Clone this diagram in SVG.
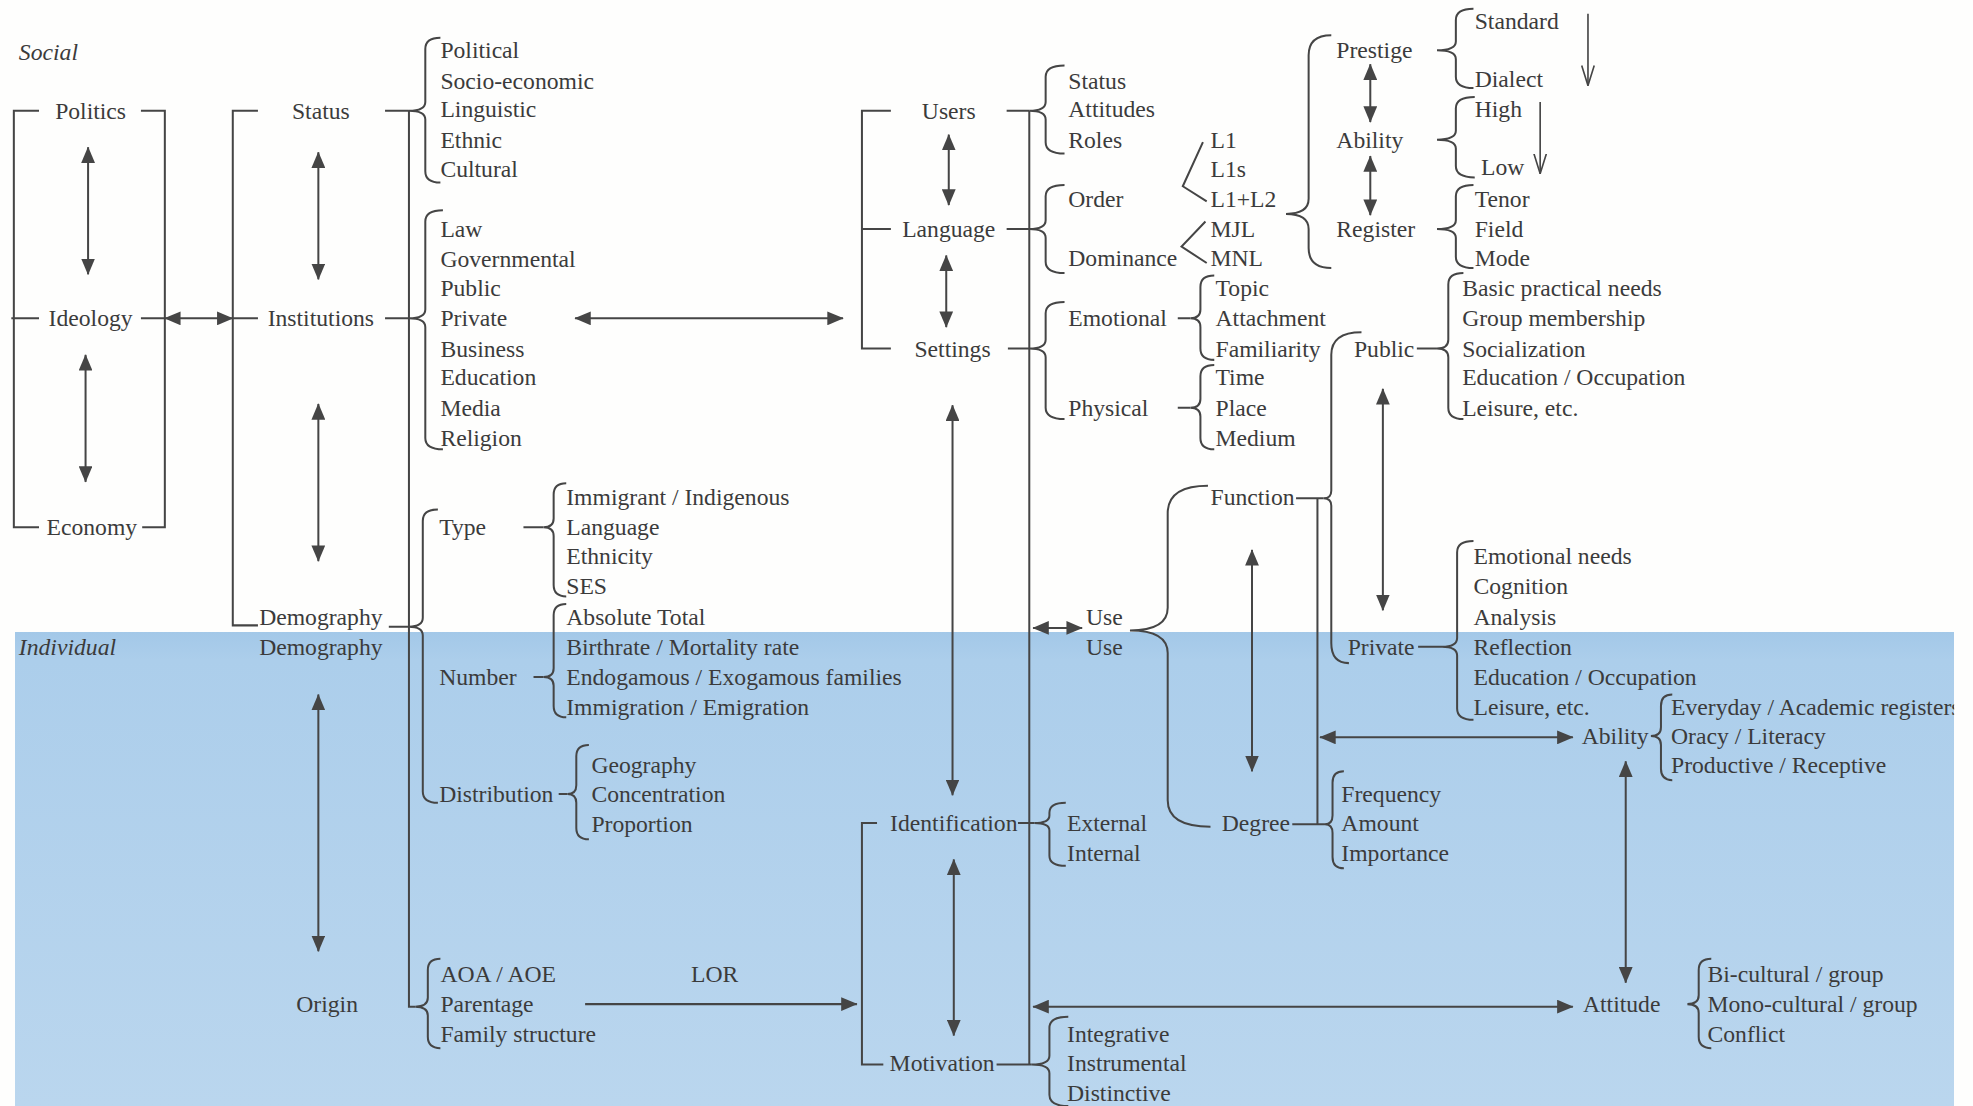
<svg xmlns="http://www.w3.org/2000/svg" width="1973" height="1106" viewBox="0 0 1973 1106">
<style>
text{font-family:"Liberation Serif","Times New Roman",serif;font-size:18.8px;fill:#3b3b3b;dominant-baseline:central}
.m{text-anchor:middle}
.it{font-style:italic}
.ln,.br,.ar,.oa{fill:none;stroke:#454545;stroke-width:1.6}
.ar{marker-start:url(#ah);marker-end:url(#ah)}
.sa{fill:none;stroke:#454545;stroke-width:1.6;marker-end:url(#ah)}
.oa{stroke-width:1.3;marker-end:url(#oh)}
</style>
<defs>
<linearGradient id="blue" x1="0" y1="0" x2="0" y2="1">
<stop offset="0" stop-color="#a3c8e8"/>
<stop offset="0.06" stop-color="#acceeb"/>
<stop offset="1" stop-color="#bad6ee"/>
</linearGradient>
<marker id="ah" viewBox="0 0 13 11" refX="12.5" refY="5.5" markerWidth="13" markerHeight="11" markerUnits="userSpaceOnUse" orient="auto-start-reverse">
<path d="M0,0 L13,5.5 L0,11 z" fill="#454545"/>
</marker>
<marker id="oh" viewBox="0 0 16 11" refX="16" refY="5.5" markerWidth="16" markerHeight="11" markerUnits="userSpaceOnUse" orient="auto">
<path d="M0,0.5 L16,5.5 L0,10.5" fill="none" stroke="#454545" stroke-width="1.3"/>
</marker>
<clipPath id="edge" clipPathUnits="userSpaceOnUse"><rect x="0" y="0" width="1553" height="879"/></clipPath>
</defs>
<rect x="0" y="0" width="1973" height="1106" fill="#fefefd"/>
<rect id="individual-zone" x="15" y="632" width="1939" height="474" fill="url(#blue)"/>
<g transform="scale(1.2583)">
<g id="zone-labels">
<text class="it" x="15" y="41">Social</text>
<text class="it" x="15" y="514">Individual</text>
</g>
<g id="connectors">
<path class="ln" d="M31,88 H11 V419 H31 M9,253 H31 M112,88 H131 V419 H113 M112,253 H131"/>
<path class="ln" d="M205,88 H185 V497 H205 M185,253 H205 M306,88 H325 M306,253 H325 M309,498 H325 M325,88 V800 H330"/>
<path class="ln" d="M708,88 H685 V277 H708 M685,182 H708 M800,88 H818 M800,182 H818 M801,277 H818 M818,88 V846"/>
<path class="ln" d="M697,654 H685 V846 H702 M809,654 H822 M792,846 H820"/>
<path class="ln" d="M1030,396 H1052 M1027,655 H1053 M1047,396 V655"/>
<path class="ln" d="M416,419 H432 M424,538 H432 M444,631 H451 M936,253 H946 M936,324 H946 M1126,277 H1142 M1127,514 H1146"/>
<path class="ln" d="M956,113 L940,148 L959,160 M958,176 L939,196 L959,209"/>
<line class="ar" x1="70" y1="117" x2="70" y2="218"/>
<line class="ar" x1="68" y1="282" x2="68" y2="383"/>
<line class="ar" x1="131" y1="253" x2="185" y2="253"/>
<line class="ar" x1="253" y1="121" x2="253" y2="222"/>
<line class="ar" x1="253" y1="321" x2="253" y2="446"/>
<line class="ar" x1="253" y1="552" x2="253" y2="756"/>
<line class="ar" x1="457" y1="253" x2="670" y2="253"/>
<line class="ar" x1="754" y1="107" x2="754" y2="163"/>
<line class="ar" x1="752" y1="203" x2="752" y2="260"/>
<line class="ar" x1="757" y1="322" x2="757" y2="632"/>
<line class="ar" x1="758" y1="683" x2="758" y2="823"/>
<line class="ar" x1="1089" y1="51" x2="1089" y2="97"/>
<line class="ar" x1="1089" y1="124" x2="1089" y2="171"/>
<line class="ar" x1="821" y1="499" x2="860" y2="499"/>
<line class="ar" x1="995" y1="437" x2="995" y2="613"/>
<line class="ar" x1="1099" y1="309" x2="1099" y2="485"/>
<line class="ar" x1="1049" y1="586" x2="1250" y2="586"/>
<line class="ar" x1="1292" y1="605" x2="1292" y2="781"/>
<line class="ar" x1="821" y1="800" x2="1250" y2="800"/>
<line class="sa" x1="465" y1="798" x2="681" y2="798"/>
<line class="oa" x1="1262" y1="11" x2="1262" y2="68"/>
<line class="oa" x1="1224" y1="81" x2="1224" y2="138"/>
</g>
<g id="n-politics"><text class="m" x="72" y="88">Politics</text></g>
<g id="n-ideology"><text class="m" x="72" y="253">Ideology</text></g>
<g id="n-economy"><text class="m" x="73" y="419">Economy</text></g>
<g id="n-status">
<text class="m" x="255" y="88">Status</text>
<path class="br" d="M350,30 Q338,30 338,39 L338,81 Q338,88 325,88 Q338,88 338,95 L338,136 Q338,145 350,145"/>
<text x="350" y="40">Political</text><text x="350" y="64">Socio-economic</text><text x="350" y="87">Linguistic</text><text x="350" y="111">Ethnic</text><text x="350" y="134">Cultural</text>
</g>
<g id="n-institutions">
<text class="m" x="255" y="253">Institutions</text>
<path class="br" d="M352,167 Q338,167 338,176 L338,246 Q338,253 325,253 Q338,253 338,260 L338,348 Q338,357 352,357"/>
<text x="350" y="182">Law</text><text x="350" y="206">Governmental</text><text x="350" y="229">Public</text><text x="350" y="253">Private</text><text x="350" y="277">Business</text><text x="350" y="300">Education</text><text x="350" y="324">Media</text><text x="350" y="348">Religion</text>
</g>
<g id="n-demography">
<text class="m" x="255" y="490">Demography</text>
<text class="m" x="255" y="514">Demography</text>
<path class="br" d="M348,405 Q336,405 336,414 L336,491 Q336,498 325,498 Q336,498 336,505 L336,629 Q336,638 348,638"/>
</g>
<g id="n-type">
<text x="349" y="419">Type</text>
<path class="br" d="M450,384 Q440,384 440,393 L440,412 Q440,419 432,419 Q440,419 440,426 L440,465 Q440,474 450,474"/>
<text x="450" y="395">Immigrant / Indigenous</text><text x="450" y="419">Language</text><text x="450" y="442">Ethnicity</text><text x="450" y="466">SES</text>
</g>
<g id="n-number">
<text x="349" y="538">Number</text>
<path class="br" d="M450,480 Q440,480 440,489 L440,531 Q440,538 432,538 Q440,538 440,545 L440,561 Q440,570 450,570"/>
<text x="450" y="490">Absolute Total</text><text x="450" y="514">Birthrate / Mortality rate</text><text x="450" y="538">Endogamous / Exogamous families</text><text x="450" y="562">Immigration / Emigration</text>
</g>
<g id="n-distribution">
<text x="349" y="631">Distribution</text>
<path class="br" d="M468,592 Q458,592 458,601 L458,624 Q458,631 451,631 Q458,631 458,638 L458,658 Q458,667 468,667"/>
<text x="470" y="608">Geography</text><text x="470" y="631">Concentration</text><text x="470" y="655">Proportion</text>
</g>
<g id="n-origin">
<text class="m" x="260" y="798">Origin</text>
<path class="br" d="M350,762 Q340,762 340,771 L340,793 Q340,800 330,800 Q340,800 340,807 L340,824 Q340,833 350,833"/>
<text x="350" y="774">AOA / AOE</text><text x="350" y="798">Parentage</text><text x="350" y="822">Family structure</text>
<text class="m" x="568" y="774">LOR</text>
</g>
<g id="n-users">
<text class="m" x="754" y="88">Users</text>
<path class="br" d="M846,52 Q831,52 831,61 L831,81 Q831,88 818,88 Q831,88 831,95 L831,113 Q831,122 846,122"/>
<text x="849" y="64">Status</text><text x="849" y="87">Attitudes</text><text x="849" y="111">Roles</text>
</g>
<g id="n-language">
<text class="m" x="754" y="182">Language</text>
<path class="br" d="M846,147 Q831,147 831,156 L831,175 Q831,182 818,182 Q831,182 831,189 L831,208 Q831,217 846,217"/>
<text x="849" y="158">Order</text><text x="849" y="205">Dominance</text>
<text x="962" y="111">L1</text><text x="962" y="134">L1s</text><text x="962" y="158">L1+L2</text><text x="962" y="182">MJL</text><text x="962" y="205">MNL</text>
<path class="br" d="M1058,28 Q1040,28 1040,44 L1040,158 Q1040,170 1022,170 Q1040,170 1040,182 L1040,197 Q1040,213 1058,213"/>
</g>
<g id="n-prestige">
<text x="1062" y="40">Prestige</text>
<path class="br" d="M1171,7 Q1157,7 1157,16 L1157,33 Q1157,40 1142,40 Q1157,40 1157,47 L1157,61 Q1157,70 1171,70"/>
<text x="1172" y="17">Standard</text><text x="1172" y="63">Dialect</text>
</g>
<g id="n-ability-lang">
<text x="1062" y="111">Ability</text>
<path class="br" d="M1172,77 Q1157,77 1157,86 L1157,104 Q1157,111 1142,111 Q1157,111 1157,118 L1157,132 Q1157,141 1172,141"/>
<text x="1172" y="87">High</text><text x="1177" y="133">Low</text>
</g>
<g id="n-register">
<text x="1062" y="182">Register</text>
<path class="br" d="M1171,147 Q1157,147 1157,156 L1157,175 Q1157,182 1142,182 Q1157,182 1157,189 L1157,204 Q1157,213 1171,213"/>
<text x="1172" y="158">Tenor</text><text x="1172" y="182">Field</text><text x="1172" y="205">Mode</text>
</g>
<g id="n-settings">
<text class="m" x="757" y="277">Settings</text>
<path class="br" d="M846,240 Q831,240 831,249 L831,270 Q831,277 818,277 Q831,277 831,284 L831,324 Q831,333 846,333"/>
<text x="849" y="253">Emotional</text><text x="849" y="324">Physical</text>
<path class="br" d="M965,219 Q954,219 954,228 L954,246 Q954,253 946,253 Q954,253 954,260 L954,277 Q954,286 965,286"/>
<path class="br" d="M965,290 Q954,290 954,299 L954,317 Q954,324 946,324 Q954,324 954,331 L954,348 Q954,357 965,357"/>
<text x="966" y="229">Topic</text><text x="966" y="253">Attachment</text><text x="966" y="277">Familiarity</text><text x="966" y="300">Time</text><text x="966" y="324">Place</text><text x="966" y="348">Medium</text>
</g>
<g id="n-use">
<text x="863" y="490">Use</text><text x="863" y="514">Use</text>
<path class="br" d="M960,386 Q928,386 928,408 L928,483 Q928,501 898,501 Q928,501 928,519 L928,636 Q928,657 962,657"/>
</g>
<g id="n-function">
<text x="962" y="395">Function</text>
<path class="br" d="M1082,264 Q1058,264 1058,282 L1058,390 Q1058,396 1052,396 Q1058,396 1058,402 L1058,511 Q1058,527 1072,527"/>
</g>
<g id="n-public">
<text x="1076" y="277">Public</text>
<path class="br" d="M1163,217 Q1151,217 1151,226 L1151,270 Q1151,277 1142,277 Q1151,277 1151,284 L1151,324 Q1151,333 1163,333"/>
<text x="1162" y="229">Basic practical needs</text><text x="1162" y="253">Group membership</text><text x="1162" y="277">Socialization</text><text x="1162" y="300">Education / Occupation</text><text x="1162" y="324">Leisure, etc.</text>
</g>
<g id="n-private">
<text x="1071" y="514">Private</text>
<path class="br" d="M1171,430 Q1158,430 1158,439 L1158,507 Q1158,514 1146,514 Q1158,514 1158,521 L1158,563 Q1158,572 1171,572"/>
<text x="1171" y="442">Emotional needs</text><text x="1171" y="466">Cognition</text><text x="1171" y="490">Analysis</text><text x="1171" y="514">Reflection</text><text x="1171" y="538">Education / Occupation</text><text x="1171" y="562">Leisure, etc.</text>
</g>
<g id="n-degree">
<text x="971" y="654">Degree</text>
<path class="br" d="M1068,613 Q1059,613 1059,622 L1059,648 Q1059,655 1053,655 Q1059,655 1059,662 L1059,681 Q1059,690 1068,690"/>
<text x="1066" y="631">Frequency</text><text x="1066" y="654">Amount</text><text x="1066" y="678">Importance</text>
</g>
<g id="n-ability">
<text x="1257" y="585">Ability</text>
<path class="br" d="M1329,552 Q1320,552 1320,561 L1320,578 Q1320,585 1312,585 Q1320,585 1320,592 L1320,611 Q1320,620 1329,620"/>
<text x="1328" y="562" clip-path="url(#edge)">Everyday / Academic registers</text><text x="1328" y="585">Oracy / Literacy</text><text x="1328" y="608">Productive / Receptive</text>
</g>
<g id="n-identification">
<text class="m" x="758" y="654">Identification</text>
<path class="br" d="M847,638 Q834,638 834,646 L834,648 Q834,654 822,654 Q834,654 834,660 L834,680 Q834,688 847,688"/>
<text x="848" y="654">External</text><text x="848" y="678">Internal</text>
</g>
<g id="n-motivation">
<text x="707" y="845">Motivation</text>
<path class="br" d="M849,808 Q834,808 834,817 L834,839 Q834,846 820,846 Q834,846 834,853 L834,870 Q834,879 849,879"/>
<text x="848" y="822">Integrative</text><text x="848" y="845">Instrumental</text><text x="848" y="869">Distinctive</text>
</g>
<g id="n-attitude">
<text x="1258" y="798">Attitude</text>
<path class="br" d="M1360,762 Q1350,762 1350,771 L1350,791 Q1350,798 1341,798 Q1350,798 1350,805 L1350,824 Q1350,833 1360,833"/>
<text x="1357" y="774">Bi-cultural / group</text><text x="1357" y="798">Mono-cultural / group</text><text x="1357" y="822">Conflict</text>
</g>
</g>
</svg>
